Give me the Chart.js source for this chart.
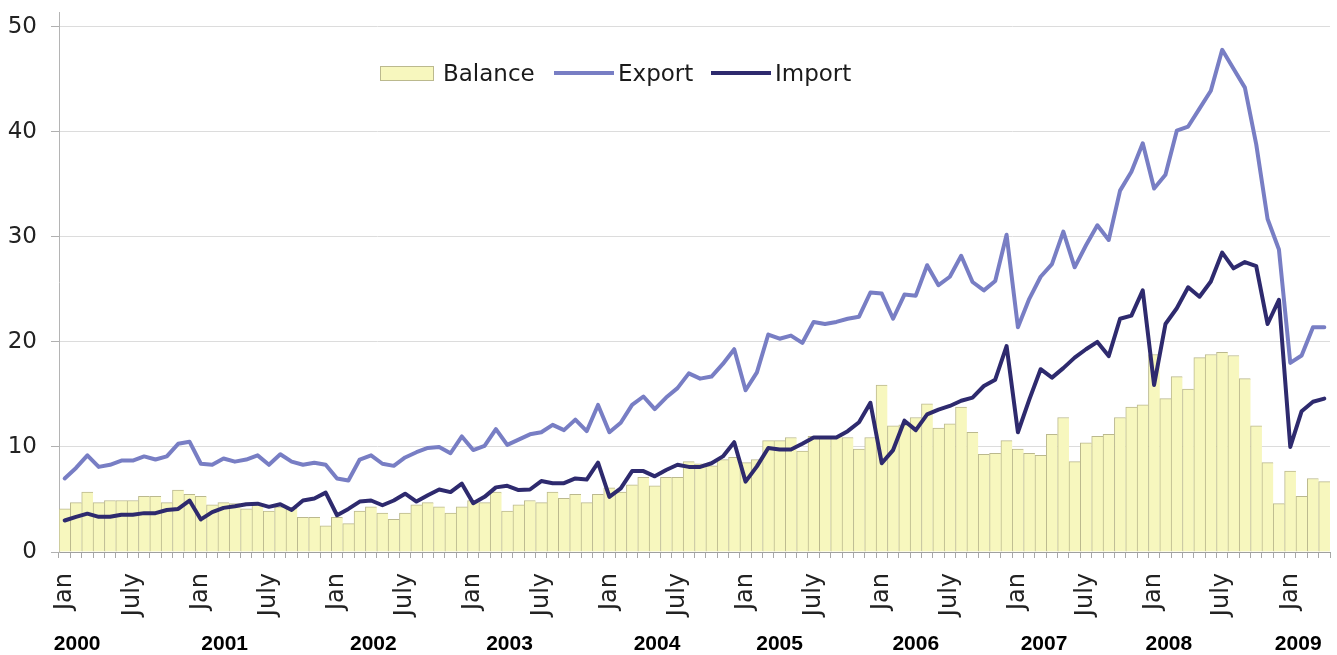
<!DOCTYPE html>
<html>
<head>
<meta charset="utf-8">
<title>Balance, Export, Import 2000-2009</title>
<script src="https://cdn.jsdelivr.net/npm/chart.js@4.4.0/dist/chart.umd.min.js"></script>
<style>
    html, body { margin: 0; padding: 0; background: #ffffff; }
    #wrap { position: relative; width: 1337px; height: 655px; }
    #legend { position: absolute; left: 0; top: 0; width: 100%; height: 0; }
    .legend-item {
        position: absolute; top: 59px; height: 28px;
        display: flex; align-items: center;
        font: 23px "DejaVu Sans", sans-serif; color: #1a1a1a;
    }
    .legend-item .sw { display: inline-block; margin-right: 8px; box-sizing: border-box; }
</style>
</head>
<body>
<div id="wrap">
    <canvas id="chart" width="1337" height="655"></canvas>
    <div id="legend"></div>
</div>
<script>
// Categories: monthly, Jan 2000 to Apr 2009
const monthNames = ['Jan', 'Feb', 'Mar', 'Apr', 'May', 'June', 'July', 'Aug', 'Sep', 'Oct', 'Nov', 'Dec'];
const years = ['2000', '2001', '2002', '2003', '2004', '2005', '2006', '2007', '2008', '2009'];
const monthsInLastYear = 4;

// Tick labels shown under the axis
const shownMonthTicks = ['Jan', 'July'];
const yTicks = [0, 10, 20, 30, 40, 50];

// Series values
const balance = [
    4.1, 4.7, 5.7, 4.7, 4.9, 4.9, 4.9, 5.3, 5.3, 4.7, 5.9, 5.5,
    5.3, 4.5, 4.7, 4.6, 4.1, 4.5, 3.9, 4.3, 4.2, 3.3, 3.3, 2.5,
    3.3, 2.7, 3.9, 4.3, 3.7, 3.1, 3.7, 4.5, 4.7, 4.3, 3.7, 4.3,
    4.9, 4.7, 5.7, 3.9, 4.5, 4.9, 4.7, 5.7, 5.1, 5.5, 4.7, 5.5,
    6.1, 5.7, 6.4, 7.1, 6.3, 7.1, 7.1, 8.6, 8.4, 8.2, 8.8, 9.0,
    8.5, 8.8, 10.6, 10.6, 10.9, 9.6, 11.0, 11.0, 11.0, 10.9, 9.8, 10.9,
    15.9, 12.0, 12.1, 12.8, 14.1, 11.8, 12.2, 13.8, 11.4, 9.3, 9.4, 10.6,
    9.8, 9.4, 9.2, 11.2, 12.8, 8.6, 10.4, 11.0, 11.2, 12.8, 13.8, 14.0,
    18.8, 14.6, 16.7, 15.5, 18.5, 18.8, 19.0, 18.7, 16.5, 12.0, 8.5, 4.6,
    7.7, 5.3, 7.0, 6.7
];
const exportValues = [
    7.0, 8.0, 9.2, 8.1, 8.3, 8.7, 8.7, 9.1, 8.8, 9.1, 10.3, 10.5,
    8.4, 8.3, 8.9, 8.6, 8.8, 9.2, 8.3, 9.3, 8.6, 8.3, 8.5, 8.3,
    7.0, 6.8, 8.8, 9.2, 8.4, 8.2, 9.0, 9.5, 9.9, 10.0, 9.4, 11.0,
    9.7, 10.1, 11.7, 10.2, 10.7, 11.2, 11.4, 12.1, 11.6, 12.6, 11.5, 14.0,
    11.4, 12.3, 14.0, 14.8, 13.6, 14.7, 15.6, 17.0, 16.5, 16.7, 17.9, 19.3,
    15.4, 17.1, 20.7, 20.3, 20.6, 19.9, 21.9, 21.7, 21.9, 22.2, 22.4, 24.7,
    24.6, 22.2, 24.5, 24.4, 27.3, 25.4, 26.2, 28.2, 25.7, 24.9, 25.8, 30.2,
    21.4, 24.1, 26.2, 27.4, 30.5, 27.1, 29.2, 31.1, 29.7, 34.4, 36.2, 38.9,
    34.6, 35.9, 40.1, 40.5, 42.2, 43.9, 47.8, 46.0, 44.2, 38.8, 31.7, 28.8,
    18.0, 18.7, 21.4, 21.4
];
const importValues = [
    3.0, 3.35, 3.65, 3.35, 3.35, 3.55, 3.55, 3.7, 3.7, 4.0, 4.1, 4.9,
    3.1, 3.8, 4.2, 4.35, 4.55, 4.6, 4.3, 4.55, 4.0, 4.9, 5.1, 5.65,
    3.5, 4.1, 4.8, 4.9, 4.45, 4.9, 5.55, 4.8, 5.4, 5.95, 5.7, 6.5,
    4.65, 5.25, 6.15, 6.3, 5.9, 5.95, 6.75, 6.55, 6.55, 7.0, 6.9, 8.5,
    5.25, 6.05, 7.7, 7.7, 7.2, 7.8, 8.3, 8.1, 8.1, 8.45, 9.1, 10.45,
    6.7, 8.15, 9.9, 9.75, 9.75, 10.3, 10.9, 10.9, 10.9, 11.5, 12.35, 14.2,
    8.45, 9.7, 12.5, 11.6, 13.1, 13.55, 13.9, 14.4, 14.7, 15.8, 16.4, 19.6,
    11.4, 14.5, 17.4, 16.6, 17.5, 18.5, 19.3, 20.0, 18.65, 22.2, 22.5, 24.9,
    15.9, 21.7, 23.2, 25.2, 24.3, 25.75, 28.5, 27.0, 27.6, 27.2, 21.7, 24.0,
    10.0, 13.4, 14.3, 14.6
];

// Layout: where each year caption sits, in months after its January
const yearCaptionShift = [1.1, 2.1, 3.2, 3.2, 4.2, 3.0, 3.0, 2.3, 1.3, 0.7];

const FONT = '"DejaVu Sans", "Noto Sans", sans-serif';

const categories = [];
years.forEach((yr, yi) => {
    const count = yi === years.length - 1 ? monthsInLastYear : monthNames.length;
    for (let m = 0; m < count; m++) categories.push(monthNames[m] + ' ' + yr);
});

// Year captions below the month labels
const yearCaptions = {
    id: 'yearCaptions',
    afterDraw(chart) {
        const { ctx } = chart;
        const x = chart.scales.x;
        ctx.save();
        ctx.font = 'bold 21px "Liberation Sans", Arial, sans-serif';
        ctx.fillStyle = '#000000';
        ctx.textAlign = 'center';
        ctx.textBaseline = 'middle';
        years.forEach((yr, i) => {
            const px = x.getPixelForValue(i * 12 + yearCaptionShift[i]);
            ctx.fillText(yr, px, 644);
        });
        ctx.restore();
    }
};

const chart = new Chart(document.getElementById('chart'), {
    type: 'bar',
    data: {
        labels: categories,
        datasets: [
            {
                type: 'bar',
                label: 'Balance',
                data: balance,
                backgroundColor: '#f7f7be',
                borderColor: '#bbb98e',
                borderWidth: { top: 1, left: 1, right: 0, bottom: 0 },
                borderSkipped: false,
                barPercentage: 1,
                categoryPercentage: 1,
                order: 3
            },
            {
                type: 'line',
                label: 'Export',
                data: exportValues,
                borderColor: '#787ec4',
                backgroundColor: '#787ec4',
                borderWidth: 4,
                pointRadius: 0,
                tension: 0,
                borderJoinStyle: 'round',
                borderCapStyle: 'round',
                order: 2
            },
            {
                type: 'line',
                label: 'Import',
                data: importValues,
                borderColor: '#2e2a6e',
                backgroundColor: '#2e2a6e',
                borderWidth: 4,
                pointRadius: 0,
                tension: 0,
                borderJoinStyle: 'round',
                borderCapStyle: 'round',
                order: 1
            }
        ]
    },
    options: {
        responsive: false,
        animation: false,
        events: [],
        layout: { padding: { left: 0, right: 7, top: 12, bottom: 24 } },
        plugins: {
            legend: { display: false },
            tooltip: { enabled: false }
        },
        scales: {
            x: {
                offset: true,
                grid: { drawOnChartArea: false, drawTicks: true, tickLength: 6, color: '#a8a8a8', offset: true },
                border: { color: '#a0a0a0' },
                ticks: {
                    autoSkip: false,
                    maxRotation: 90,
                    minRotation: 90,
                    padding: 15,
                    color: '#222222',
                    font: { family: FONT, size: 24 },
                    callback: (value, index) => {
                        const name = categories[index].split(' ')[0];
                        return shownMonthTicks.includes(name) ? name : '';
                    }
                },
                // fixed axis height so the plot bottom stays at the zero line of the original
                afterFit: (scale) => { scale.paddingLeft = 0; scale.paddingRight = 0; scale.height = 79; }
            },
            y: {
                min: 0,
                max: 51.4,
                afterBuildTicks: (scale) => { scale.ticks = yTicks.map(v => ({ value: v })); },
                grid: { color: '#dcdcdc', tickLength: 8, tickColor: '#b0b0b0' },
                border: { color: '#b4b4b4' },
                ticks: {
                    padding: 14,
                    color: '#222222',
                    font: { family: FONT, size: 23 }
                },
                afterFit: (scale) => { scale.width = 59; scale.paddingTop = 0; }
            }
        }
    },
    plugins: [yearCaptions]
});

// HTML legend built from the datasets
const legendLeft = [380, 554, 711];
const legendEl = document.getElementById('legend');
chart.data.datasets.forEach((ds, i) => {
    const item = document.createElement('div');
    item.className = 'legend-item';
    item.style.left = legendLeft[i] + 'px';
    const sw = document.createElement('span');
    sw.className = 'sw';
    if (ds.type === 'bar') {
        sw.style.width = '54px';
        sw.style.height = '15px';
        sw.style.background = ds.backgroundColor;
        sw.style.border = '1px solid ' + ds.borderColor;
        sw.style.marginRight = '9px';
    } else {
        sw.style.width = '60px';
        sw.style.height = '4px';
        sw.style.background = ds.borderColor;
        sw.style.marginRight = '4px';
    }
    const txt = document.createElement('span');
    txt.textContent = ds.label;
    item.appendChild(sw);
    item.appendChild(txt);
    legendEl.appendChild(item);
});
</script>
</body>
</html>
